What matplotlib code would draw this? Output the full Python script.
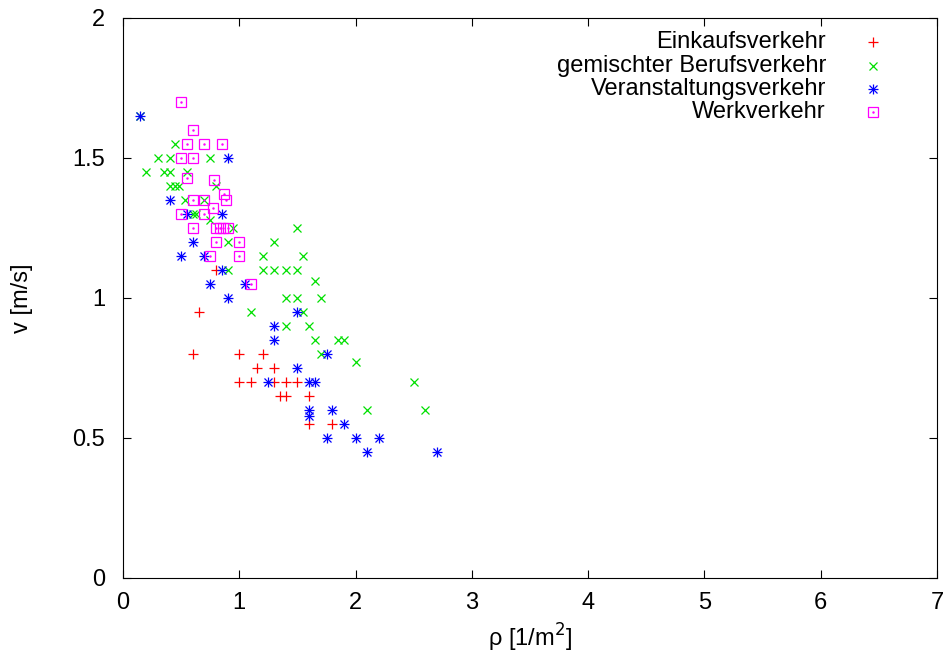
import numpy as np
import matplotlib.pyplot as plt

plt.rcParams['font.family'] = ['Liberation Sans', 'DejaVu Sans']

# Einkaufsverkehr
eink_rho = [0.6, 0.65, 0.8, 1.0, 1.2, 1.15, 1.3, 1.0, 1.1, 1.3, 1.4, 1.5, 1.35, 1.4, 1.6, 1.6, 1.8]
eink_v = [0.8, 0.95, 1.1, 0.8, 0.8, 0.75, 0.75, 0.7, 0.7, 0.7, 0.7, 0.7, 0.65, 0.65, 0.65, 0.55, 0.55]

# gemischter Berufsverkehr
beruf_rho = [0.15, 0.45, 0.3, 0.4, 0.75, 0.2, 0.35, 0.4, 0.55, 0.4, 0.45, 0.48, 0.8, 0.53, 0.7,
             0.6, 0.63, 0.75, 0.95, 1.5, 0.9, 1.3, 1.2, 1.55, 0.9, 1.2, 1.3, 1.4, 1.5, 1.65,
             1.4, 1.5, 1.7, 1.1, 1.55, 1.4, 1.6, 1.65, 1.85, 1.9, 1.7, 2.0, 2.5, 2.1, 2.6]
beruf_v = [1.65, 1.55, 1.5, 1.5, 1.5, 1.45, 1.45, 1.45, 1.45, 1.4, 1.4, 1.4, 1.4, 1.35, 1.35,
           1.3, 1.3, 1.28, 1.25, 1.25, 1.2, 1.2, 1.15, 1.15, 1.1, 1.1, 1.1, 1.1, 1.1, 1.06,
           1.0, 1.0, 1.0, 0.95, 0.95, 0.9, 0.9, 0.85, 0.85, 0.85, 0.8, 0.77, 0.7, 0.6, 0.6]

# Veranstaltungsverkehr
veran_rho = [0.15, 0.9, 0.4, 0.55, 0.85, 0.6, 0.5, 0.7, 0.85, 0.75, 1.05, 0.9, 1.5, 1.3, 1.3,
             1.75, 1.5, 1.25, 1.6, 1.65, 1.6, 1.6, 1.8, 1.9, 1.75, 2.0, 2.2, 2.1, 2.7]
veran_v = [1.65, 1.5, 1.35, 1.3, 1.3, 1.2, 1.15, 1.15, 1.1, 1.05, 1.05, 1.0, 0.95, 0.9, 0.85,
           0.8, 0.75, 0.7, 0.7, 0.7, 0.6, 0.58, 0.6, 0.55, 0.5, 0.5, 0.5, 0.45, 0.45]

# Werkverkehr
werk_rho = [0.5, 0.6, 0.55, 0.7, 0.85, 0.5, 0.6, 0.55, 0.78, 0.87, 0.89, 0.6, 0.7, 0.77, 0.5,
            0.7, 0.6, 0.8, 0.83, 0.86, 0.9, 0.8, 1.0, 0.75, 1.0, 1.1]
werk_v = [1.7, 1.6, 1.55, 1.55, 1.55, 1.5, 1.5, 1.43, 1.42, 1.37, 1.35, 1.35, 1.35, 1.32, 1.3,
          1.3, 1.25, 1.25, 1.25, 1.25, 1.25, 1.2, 1.2, 1.15, 1.15, 1.05]

labels = ['Einkaufsverkehr', 'gemischter Berufsverkehr', 'Veranstaltungsverkehr', 'Werkverkehr']

fs = 17
ms = 7
lw = 0.9
red, green, blue, magenta = '#ff0000', '#00e000', '#0000ff', '#ff00ff'

fig = plt.figure(figsize=(9.47, 6.59), dpi=100)
ax = fig.add_axes([123 / 947, 1 - 578 / 659, (937 - 123) / 947, (578 - 18) / 659])


def draw(axis, x, y, kind, color, **kw):
    if kind == 'plus':
        axis.plot(x, y, ls='none', marker='+', ms=ms, mew=lw, color=color, **kw)
    elif kind == 'cross':
        axis.plot(x, y, ls='none', marker='x', ms=ms * 0.9, mew=lw, color=color, **kw)
    elif kind == 'star':
        axis.plot(x, y, ls='none', marker='+', ms=ms, mew=lw, color=color, **kw)
        axis.plot(x, y, ls='none', marker='x', ms=ms * 0.75, mew=lw, color=color, **kw)
    else:
        axis.plot(x, y, ls='none', marker='s', ms=ms * 0.95, mew=lw, mfc='none', color=color, **kw)
        axis.plot(x, y, ls='none', marker='.', ms=1.5, color=color, **kw)


series = [(eink_rho, eink_v, 'plus', red),
          (beruf_rho, beruf_v, 'cross', green),
          (veran_rho, veran_v, 'star', blue),
          (werk_rho, werk_v, 'square', magenta)]

for rho, v, kind, col in series:
    draw(ax, rho, v, kind, col)

ax.set_xlim(0, 7)
ax.set_ylim(0, 2)
ax.set_xticks(range(8))
ax.set_yticks([0, 0.5, 1, 1.5, 2])
ax.set_yticklabels(['0', '0.5', '1', '1.5', '2'])
ax.tick_params(direction='in', top=True, right=True, length=6, width=0.8, labelsize=fs)
ax.tick_params(axis='y', pad=13)
ax.tick_params(axis='x', pad=10)
for s in ax.spines.values():
    s.set_linewidth(0.8)

ax.set_xlabel('ρ [1/m$^2$]', fontsize=fs, labelpad=6)
ax.set_ylabel('v [m/s]', fontsize=fs, labelpad=28)

# key, gnuplot style: text right-aligned, sample on the right
key_y = [0.957, 0.914, 0.873, 0.832]
for (rho, v, kind, col), lab, yk in zip(series, labels, key_y):
    ax.text(0.8636, yk, lab, transform=ax.transAxes, ha='right', va='center', fontsize=fs)
    draw(ax, [0.9214], [yk], kind, col, transform=ax.transAxes, clip_on=False)

fig.savefig('out.png', dpi=100)
